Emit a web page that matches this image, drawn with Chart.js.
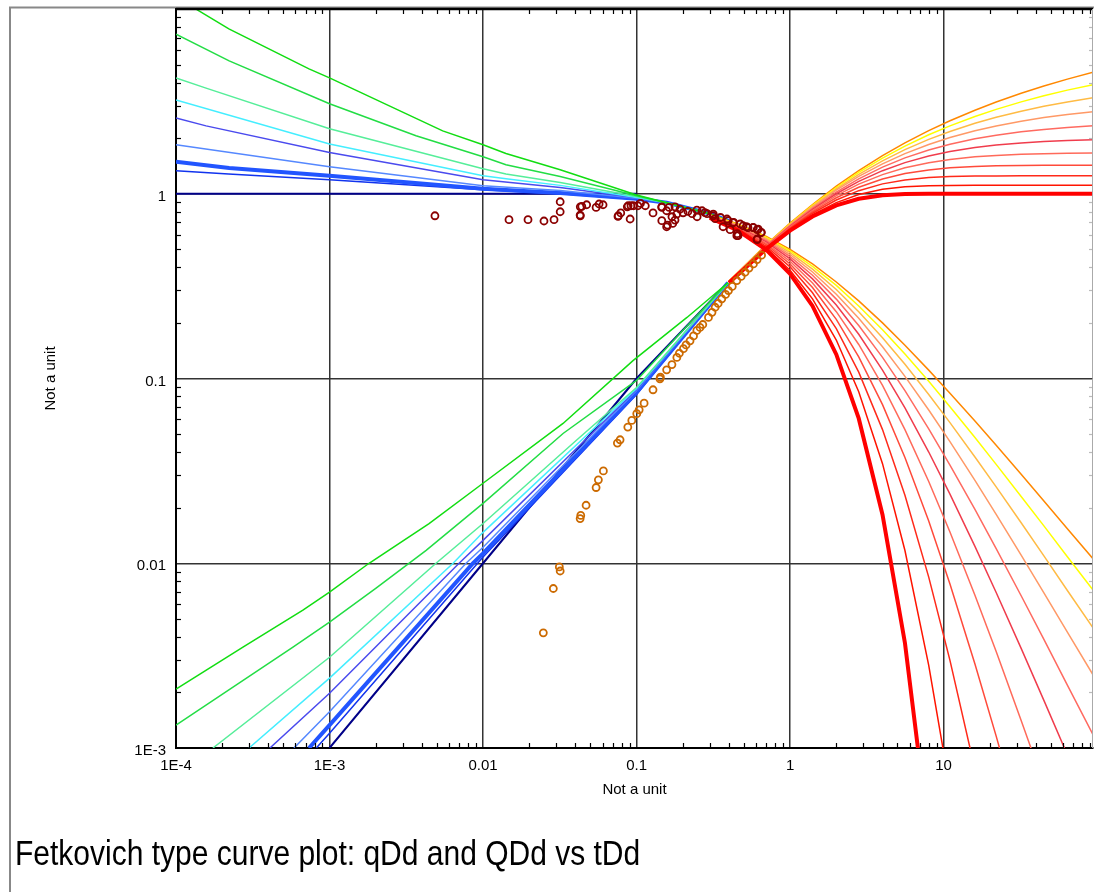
<!DOCTYPE html>
<html>
<head>
<meta charset="utf-8">
<script src="https://cdn.jsdelivr.net/npm/chart.js@4.4.0/dist/chart.umd.min.js"></script>
<style>
body { margin:0; background:#fff; overflow:hidden; }
#wrap { position:relative; width:1094px; height:892px; }
#caption { position:absolute; left:15px; top:835px; line-height:35px; font-family:'Liberation Sans',Arial,sans-serif; font-size:35px; color:#000; white-space:nowrap; transform:scaleX(0.857); transform-origin:0 0; }
</style>
</head>
<body>
<div id="wrap">
<canvas id="myChart" width="1094" height="892"></canvas>
<div id="caption">Fetkovich type curve plot: qDd and QDd vs tDd</div>
</div>
<script>
// axis ticks
var xTickValues = [1e-4, 1e-3, 0.01, 0.1, 1, 10];
var xTickLabels = ['1E-4', '1E-3', '0.01', '0.1', '1', '10'];
var yTickValues = [1e-3, 0.01, 0.1, 1, 10];
var yTickLabels = ['1E-3', '0.01', '0.1', '1', ''];

// transient stems, rate (tDd, qDd)
var qT1 = [[1e-4,11.6],[1.42e-4,9.75],[2.21e-4,7.8],[7.35e-4,4.74],[1e-3,4.24],[5.46e-3,2.19],[0.01,1.84],[0.0141,1.65],[0.0318,1.35],[0.1,0.985],[0.157,0.895],[0.3,0.78],[0.4,0.71]];
var qT2 = [[1e-4,7.3],[2.22e-4,5.24],[1e-3,3.07],[3.66e-3,2.06],[0.01,1.585],[0.0141,1.435],[0.0318,1.24],[0.1,0.975],[0.157,0.895],[0.3,0.78],[0.4,0.71]];
var qT3 = [[1e-4,4.24],[1.57e-4,3.73],[1e-3,2.25],[0.01,1.365],[0.0141,1.28],[0.0318,1.15],[0.1,0.965],[0.157,0.895],[0.3,0.78],[0.4,0.71]];
var qT4 = [[1e-4,3.22],[1e-3,1.86],[0.01,1.25],[0.0141,1.205],[0.0318,1.11],[0.1,0.955],[0.157,0.895],[0.3,0.78],[0.4,0.71]];
var qT5 = [[1e-4,2.57],[1.57e-4,2.33],[1e-3,1.67],[0.01,1.19],[0.0318,1.08],[0.1,0.95],[0.157,0.895],[0.3,0.78],[0.4,0.71]];
var qT6 = [[1e-4,1.84],[1e-3,1.40],[0.01,1.105],[0.0318,1.04],[0.1,0.945],[0.157,0.895],[0.3,0.78],[0.4,0.71]];
var qT7 = [[1e-4,1.49],[2.22e-4,1.38],[1e-3,1.25],[0.01,1.064],[0.0318,1.01],[0.1,0.94],[0.157,0.895],[0.3,0.78],[0.4,0.71]];
var qT8 = [[1e-4,1.33],[2.2e-4,1.28],[1e-3,1.19],[0.01,1.05],[0.0318,1.0],[0.1,0.935],[0.157,0.895],[0.3,0.78],[0.4,0.71]];
var qT9 = [[1e-4,1],[0.1,1]];

// transient stems, cumulative (tDd, QDd)
var cT1 = [[1e-4,0.00208],[2.73e-4,0.00352],[6.71e-4,0.00557],[1e-3,0.00697],[1.81e-3,0.01],[4.45e-3,0.0164],[0.01,0.0271],[0.0332,0.0571],[0.0948,0.125],[0.213,0.214],[0.394,0.33]];
var cT2 = [[1e-4,0.00133],[5.78e-4,0.00352],[1e-3,0.0048],[2.01e-3,0.00733],[4.26e-3,0.01175],[0.01,0.0211],[0.0332,0.0504],[0.1,0.0976],[0.2,0.182],[0.394,0.33]];
var cT3 = [[1.74e-4,0.001],[1e-3,0.0031],[4.94e-3,0.01],[0.01,0.0164],[0.0404,0.0462],[0.1,0.0894],[0.394,0.33]];
var cT4 = [[2.99e-4,0.001],[1e-3,0.00239],[6.38e-3,0.01],[0.01,0.0147],[0.1,0.0883],[0.394,0.33]];
var cT5 = [[4.09e-4,0.001],[1e-3,0.00198],[6.98e-3,0.01],[0.01,0.0133],[0.1,0.0872],[0.394,0.33]];
var cT6 = [[5.87e-4,0.001],[1e-3,0.00157],[7.75e-3,0.01],[0.01,0.0122],[0.1,0.0862],[0.394,0.33]];
var cT7 = [[7.35e-4,0.001],[1e-3,0.00133],[8.61e-3,0.01],[0.01,0.0113],[0.1,0.084],[0.394,0.33]];
var cT8 = [[8.2e-4,0.001],[1e-3,0.0012],[0.01,0.0108],[0.1,0.082],[0.394,0.33]];
var cT9 = [[1e-3,0.001],[0.01,0.01],[0.1,0.1],[0.394,0.33]];

// depletion stems (b = 0 ... 1)
var rateTimes = [0.3,0.45,0.7,1,1.4,2,2.8,4,5.6,8,11,16,22,32,45,64,94];
var qB00 = [0.741,0.638,0.497,0.368,0.247,0.135,0.0608,0.0183,0.0037,0.000335];
var qB01 = [0.744,0.644,0.508,0.3855,0.2697,0.1615,0.0847,0.0346,0.01172,0.0028,0.0006];
var qB02 = [0.747,0.650,0.519,0.402,0.291,0.186,0.1082,0.0529,0.02334,0.00841,0.00298,0.000765];
var qB03 = [0.750,0.656,0.530,0.417,0.311,0.209,0.131,0.0722,0.0374,0.01692,0.00773,0.00285,0.00116,0.000382];
var qB04 = [0.753,0.661,0.539,0.431,0.329,0.230,0.1528,0.0917,0.0529,0.0277,0.01476,0.00671,0.00333,0.00141,0.000636];
var qB05 = [0.756,0.666,0.549,0.444,0.346,0.25,0.1736,0.1111,0.0693,0.04,0.02367,0.01235,0.00694,0.00346,0.00181,0.000918];
var qB06 = [0.759,0.671,0.557,0.457,0.362,0.269,0.1934,0.1301,0.0859,0.0534,0.034,0.01955,0.01201,0.00667,0.00387,0.00219,0.00118];
var qB07 = [0.762,0.676,0.566,0.469,0.377,0.286,0.212,0.1485,0.1027,0.0675,0.0455,0.0281,0.01839,0.01107,0.00692,0.00424,0.00249];
var qB08 = [0.764,0.681,0.574,0.480,0.391,0.303,0.230,0.1663,0.1193,0.0819,0.0577,0.0376,0.0259,0.01656,0.01096,0.00712,0.00447];
var qB09 = [0.767,0.685,0.581,0.490,0.404,0.319,0.247,0.1835,0.1356,0.0965,0.0703,0.0479,0.0343,0.0230,0.01594,0.01085,0.00717];
var qB10 = [0.769,0.690,0.588,0.5,0.417,0.333,0.263,0.2,0.1515,0.111,0.0833,0.0588,0.0435,0.0303,0.0217,0.01538,0.01058];

var cumTimes = [0.4,0.7,1,1.4,2,2.8,4,5.6,8,11,16,22,32,45,64,94];
var cB00 = [0.330,0.503,0.632,0.753,0.865,0.939,0.982,0.996,1.0,1.0,1.0,1.0,1.0,1.0,1.0,1.0];
var cB01 = [0.3304,0.5071,0.640,0.7695,0.8958,0.9907,1.0573,1.0908,1.1055,1.1097,1.111,1.111,1.111,1.111,1.111,1.111];
var cB02 = [0.331,0.5104,0.647,0.7844,0.9245,1.039,1.131,1.188,1.2227,1.238,1.246,1.2485,1.2496,1.25,1.25,1.25];
var cB03 = [0.3317,0.5124,0.654,0.7977,0.951,1.084,1.2017,1.2854,1.3464,1.381,1.405,1.416,1.4228,1.4258,1.4273,1.428];
var cB04 = [0.3324,0.5168,0.661,0.8113,0.9767,1.1268,1.2693,1.381,1.4728,1.5338,1.5839,1.6123,1.6342,1.6465,1.6545,1.6597];
var cB05 = [0.333,0.5185,0.6667,0.8235,1.0,1.1667,1.3333,1.4737,1.6,1.6923,1.7778,1.8333,1.8824,1.9149,1.9394,1.9581];
var cB06 = [0.3337,0.5227,0.672,0.8348,1.0205,1.2043,1.394,1.5637,1.7257,1.854,1.982,2.0737,2.163,2.229,2.284,2.3315];
var cB07 = [0.3344,0.5245,0.6757,0.845,1.0453,1.2417,1.452,1.649,1.848,2.014,2.191,2.328,2.47,2.584,2.686,2.782];
var cB08 = [0.335,0.526,0.6835,0.8565,1.0625,1.273,1.5075,1.732,1.9685,2.174,2.406,2.5925,2.7985,2.9725,3.14,3.3055];
var cB09 = [0.3357,0.5284,0.6884,0.8661,1.081,1.3049,1.5597,1.8113,2.0848,2.3312,2.62,2.8625,3.142,3.3898,3.6383,3.897];
var cB10 = [0.3365,0.5306,0.693,0.875,1.099,1.335,1.609,1.887,2.197,2.485,2.833,3.135,3.497,3.829,4.174,4.549];

// measured well data
var rateDataT = [0.00486,0.01476,0.01963,0.02494,0.029,0.0318,0.0318,0.0429,0.043,0.043,0.044,0.0473,0.0545,0.057,0.0605,0.076,0.0757,0.0789,0.087,0.0881,0.092,0.0908,0.0955,0.102,0.106,0.114,0.128,0.146,0.146,0.146,0.157,0.157,0.159,0.163,0.17,0.172,0.178,0.178,0.183,0.192,0.201,0.216,0.230,0.247,0.248,0.267,0.279,0.288,0.315,0.316,0.325,0.352,0.366,0.388,0.395,0.407,0.425,0.429,0.45,0.452,0.458,0.473,0.494,0.52,0.532,0.574,0.575,0.61,0.610,0.610,0.62,0.647,0.65];
var rateDataQ = [0.760,0.724,0.724,0.712,0.724,0.905,0.799,0.767,0.76,0.85,0.854,0.872,0.843,0.88,0.872,0.76,0.754,0.787,0.85,0.861,0.861,0.730,0.861,0.861,0.886,0.861,0.787,0.843,0.715,0.85,0.809,0.663,0.677,0.843,0.751,0.691,0.85,0.72,0.776,0.826,0.789,0.802,0.780,0.816,0.751,0.809,0.79,0.780,0.760,0.776,0.733,0.744,0.663,0.73,0.715,0.639,0.697,0.70,0.593,0.608,0.593,0.686,0.671,0.663,0.655,0.655,0.657,0.569,0.639,0.564,0.644,0.616,0.618];
var cumDataT = [0.0247,0.0287,0.0314,0.0318,0.0429,0.0433,0.0469,0.0545,0.0564,0.0608,0.075,0.0781,0.0877,0.0931,0.1003,0.104,0.112,0.128,0.142,0.143,0.157,0.170,0.183,0.19,0.202,0.21,0.223,0.235,0.247,0.259,0.27,0.294,0.31,0.325,0.34,0.359,0.38,0.397,0.42,0.450,0.48,0.509,0.54,0.577,0.61,0.652];
var cumDataQ = [0.0042,0.0073,0.00955,0.00908,0.01745,0.01816,0.0206,0.0257,0.0283,0.0316,0.0447,0.0466,0.0546,0.0593,0.0645,0.0677,0.0735,0.0869,0.0996,0.1016,0.1114,0.119,0.130,0.137,0.145,0.152,0.160,0.17,0.182,0.189,0.196,0.214,0.228,0.243,0.255,0.270,0.285,0.299,0.315,0.339,0.357,0.376,0.396,0.417,0.44,0.465];

var fontFamily = "'Liberation Sans', Arial, sans-serif";

function pairs(arr) {
  return arr.map(function (p) { return { x: p[0], y: p[1] }; });
}
function zipped(times, vals) {
  return vals.map(function (v, i) { return { x: times[i], y: v }; });
}
function curve(points, color, width) {
  return { data: points, borderColor: color, borderWidth: width, showLine: true,
           pointRadius: 0, fill: false, order: 2 };
}
function noPadding(s) {
  s.paddingLeft = 0; s.paddingRight = 0; s.paddingTop = 0; s.paddingBottom = 0;
}

var transientColors = ['#11dd11', '#22dd44', '#55ee99', '#44eeff', '#4a4aee', '#5588ff', '#2255ff', '#1133ee', '#000088'];
var transientWidths = [1.5, 1.5, 1.5, 1.5, 1.5, 1.5, 4, 1.5, 2];
var rateStems = [qT1, qT2, qT3, qT4, qT5, qT6, qT7, qT8, qT9];
var cumStems = [cT1, cT2, cT3, cT4, cT5, cT6, cT7, cT8, cT9];

var arpsColors = ['#ff0000', '#ff1400', '#ff2a1a', '#ff4a3a', '#ff6a5a', '#f03c4c', '#ff6a60', '#ff9966', '#ffbb44', '#ffff00', '#ff8800'];
var arpsWidths = [4, 1.5, 1.5, 1.5, 1.5, 1.5, 1.5, 1.5, 1.5, 1.5, 1.5];
var arpsRate = [qB00, qB01, qB02, qB03, qB04, qB05, qB06, qB07, qB08, qB09, qB10];
var arpsCum = [cB00, cB01, cB02, cB03, cB04, cB05, cB06, cB07, cB08, cB09, cB10];

var datasets = [];
datasets.push({ data: zipped(rateDataT, rateDataQ), showLine: false, pointStyle: 'circle', pointRadius: 3.5,
  pointBorderWidth: 1.8, pointBorderColor: '#8b0000', pointBackgroundColor: 'rgba(255,255,255,0)', order: 0 });
datasets.push({ data: zipped(cumDataT, cumDataQ), showLine: false, pointStyle: 'circle', pointRadius: 3.5,
  pointBorderWidth: 1.8, pointBorderColor: '#cc6a00', pointBackgroundColor: 'rgba(255,255,255,0)', order: 0 });
for (var i = 0; i < arpsRate.length; i++) {
  var a = curve(zipped(rateTimes, arpsRate[i]), arpsColors[i], arpsWidths[i]); a.order = 1; datasets.push(a);
  var c = curve(zipped(cumTimes, arpsCum[i]), arpsColors[i], arpsWidths[i]); c.order = 1; datasets.push(c);
}
for (var j = 0; j < rateStems.length; j++) {
  datasets.push(curve(pairs(rateStems[j]), transientColors[j], transientWidths[j]));
  datasets.push(curve(pairs(cumStems[j]), transientColors[j], transientWidths[j]));
}

// minor ticks (pointing inwards), plot frame and outer frame
var framePlugin = {
  id: 'framePlugin',
  beforeDraw: function (chart) {
    var ctx = chart.ctx;
    ctx.save();
    ctx.fillStyle = '#fff';
    ctx.fillRect(0, 0, chart.width, chart.height);
    ctx.strokeStyle = '#888';
    ctx.lineWidth = 2;
    ctx.beginPath();
    ctx.moveTo(10, chart.height);
    ctx.lineTo(10, 7.5);
    ctx.lineTo(chart.width, 7.5);
    ctx.stroke();
    ctx.restore();
  },
  afterDraw: function (chart) {
    var ctx = chart.ctx, area = chart.chartArea;
    var xs = chart.scales.x, ys = chart.scales.y;
    ctx.save();
    ctx.lineWidth = 1.2;
    for (var e = -4; e <= 1; e++) {
      for (var k = 2; k <= 9; k++) {
        var v = k * Math.pow(10, e);
        if (v > xs.max) continue;
        var px = Math.round(xs.getPixelForValue(v)) + 0.5;
        ctx.strokeStyle = '#000';
        ctx.beginPath();
        ctx.moveTo(px, area.bottom); ctx.lineTo(px, area.bottom - 5);
        ctx.moveTo(px, area.top); ctx.lineTo(px, area.top + 5);
        ctx.stroke();
      }
    }
    for (var e2 = -3; e2 <= 0; e2++) {
      for (var k2 = 2; k2 <= 9; k2++) {
        var py = Math.round(ys.getPixelForValue(k2 * Math.pow(10, e2))) + 0.5;
        ctx.strokeStyle = '#000';
        ctx.beginPath();
        ctx.moveTo(area.left, py); ctx.lineTo(area.left + 5, py);
        ctx.stroke();
        ctx.strokeStyle = '#bbb';
        ctx.beginPath();
        ctx.moveTo(area.right, py); ctx.lineTo(area.right - 4, py);
        ctx.stroke();
      }
    }
    ctx.strokeStyle = '#000';
    ctx.lineWidth = 2.5;
    ctx.beginPath();
    ctx.moveTo(area.left, area.top); ctx.lineTo(area.right, area.top);
    ctx.stroke();
    ctx.strokeStyle = '#aaa';
    ctx.lineWidth = 1;
    ctx.beginPath();
    ctx.moveTo(area.right - 0.5, area.top); ctx.lineTo(area.right - 0.5, area.bottom);
    ctx.stroke();
    ctx.restore();
  }
};

var ctx = document.getElementById('myChart').getContext('2d');
var chart = new Chart(ctx, {
  type: 'scatter',
  data: { datasets: datasets },
  options: {
    responsive: false,
    animation: false,
    devicePixelRatio: 1,
    layout: { autoPadding: false, padding: { top: 9, right: 1, left: 0, bottom: 0 } },
    plugins: { legend: { display: false }, tooltip: { enabled: false } },
    elements: { line: { tension: 0 } },
    scales: {
      x: {
        type: 'logarithmic', position: 'bottom', min: 1e-4, max: 94,
        afterBuildTicks: function (s) { s.ticks = xTickValues.map(function (v) { return { value: v }; }); },
        afterFit: function (s) { s.height = 144; noPadding(s); },
        ticks: { autoSkip: false, maxRotation: 0, minRotation: 0, padding: 9, color: '#000',
                 font: { family: fontFamily, size: 15 },
                 callback: function (v) { return xTickLabels[xTickValues.indexOf(v)]; } },
        grid: { color: '#333', lineWidth: 1.5, drawTicks: false },
        border: { color: '#000', width: 2 },
        title: { display: true, text: 'Not a unit', color: '#000', font: { family: fontFamily, size: 15 },
                 padding: { top: 0, bottom: 93 } }
      },
      y: {
        type: 'logarithmic', position: 'left', min: 1e-3, max: 10,
        afterBuildTicks: function (s) { s.ticks = yTickValues.map(function (v) { return { value: v }; }); },
        afterFit: function (s) { s.width = 176; noPadding(s); },
        ticks: { autoSkip: false, padding: 10, labelOffset: 3, color: '#000',
                 font: { family: fontFamily, size: 15 },
                 callback: function (v) { return yTickLabels[yTickValues.indexOf(v)]; } },
        grid: { color: '#333', lineWidth: 1.5, drawTicks: false },
        border: { color: '#000', width: 2 },
        title: { display: true, text: 'Not a unit', color: '#000', font: { family: fontFamily, size: 15 },
                 padding: { top: 42, bottom: 0 } }
      }
    }
  },
  plugins: [framePlugin]
});
</script>
</body>
</html>
